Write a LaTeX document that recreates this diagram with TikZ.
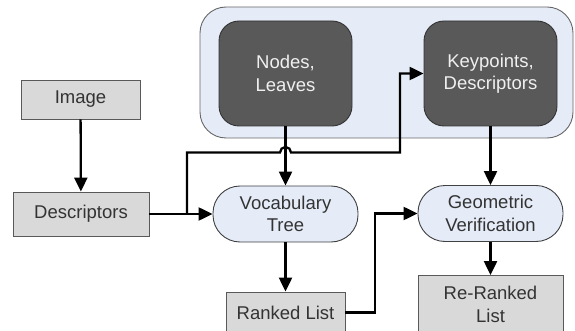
\documentclass[tikz,border=0pt]{standalone}
\usepackage{fontspec}
\setmainfont{Liberation Sans}
\usetikzlibrary{arrows.meta}
\definecolor{boxgray}{HTML}{D9D9D9}
\definecolor{darkbox}{HTML}{595959}
\definecolor{paleblue}{HTML}{E5ECF8}
\definecolor{txt}{HTML}{333333}
\begin{document}
\begin{tikzpicture}[x=1pt,y=-1pt,
  every node/.style={font=\fontsize{18.5}{22.5}\selectfont, align=center, inner sep=0pt},
  graybox/.style={draw=black!65, line width=0.9pt, fill=boxgray, text=txt},
  darkbox/.style={draw=black!80, line width=0.9pt, fill=darkbox, text=black!6, rounded corners=20pt, minimum width=133pt, minimum height=105pt},
  proc/.style={draw=black!75, line width=0.9pt, fill=paleblue, text=txt, rounded corners=27pt, minimum height=56pt},
  conn/.style={line width=2.3pt, draw=black},
  arr/.style={conn, -{Triangle[length=14pt,width=13pt]}}
]
\useasboundingbox (0,0) rectangle (575,331);
% container
\node[draw=black!60, line width=0.9pt, fill=paleblue, rounded corners=26pt, minimum width=373pt, minimum height=131pt] (group) at (386.5,72.5) {};
\node[darkbox] (nodes) at (285.5,73.5) {Nodes,\\Leaves};
\node[darkbox] (keyp) at (490.5,73.5) {Keypoints,\\Descriptors};
\node[graybox, minimum width=119pt, minimum height=39pt] (image) at (80.5,99.5) {Image};
\node[graybox, minimum width=136pt, minimum height=44pt] (desc) at (81,214) {Descriptors};
\node[proc, minimum width=145pt] (voc) at (285.5,214) {Vocabulary\\Tree};
\node[proc, minimum width=145pt] (geo) at (490.5,213.5) {Geometric\\Verification};
\node[graybox, minimum width=119pt, minimum height=41pt] (rank) at (285.5,312.5) {Ranked List};
\node[graybox, minimum width=145pt, minimum height=58pt] (rerank) at (490.5,304.5) {Re-Ranked\\List};
% connectors
\draw[arr] (image) -- (desc);
\draw[arr] (desc) -- (voc);
\draw[arr] (nodes) -- (voc);
\draw[arr] (keyp) -- (geo);
\draw[arr] (voc) -- (rank);
\draw[arr] (geo) -- (rerank);
\coordinate (br) at (187,214);
\coordinate (hopin) at (280,152.5);
\coordinate (turn) at (400,152.5);
\draw[arr] (br) |- (hopin) arc[start angle=180, end angle=0, radius=5.5pt] -- (turn) |- (keyp.west);
\coordinate (bend) at (375,312.5);
\draw[arr] (rank.east) -- (bend) |- (geo.west);
\end{tikzpicture}
\end{document}
